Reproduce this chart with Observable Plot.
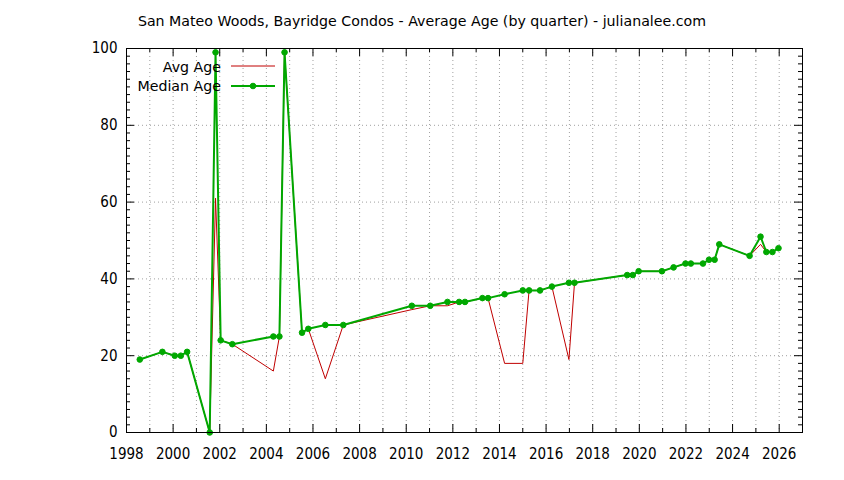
<!DOCTYPE html>
<html>
<head>
<meta charset="utf-8">
<script src="https://cdn.jsdelivr.net/npm/d3@7"></script>
<script src="https://cdn.jsdelivr.net/npm/@observablehq/plot@0.6"></script>
<style>
  body { margin: 0; background: #fff; }
  #wrap { position: relative; width: 844px; height: 480px; }
  #overlay { position: absolute; left: 0; top: 0; pointer-events: none; }
</style>
</head>
<body>
<div id="wrap">
  <div id="chart"></div>
  <svg id="overlay" width="844" height="480" font-family="DejaVu Sans, sans-serif" font-size="14.2">
    <text x="422" y="26" text-anchor="middle">San Mateo Woods, Bayridge Condos - Average Age (by quarter) - julianalee.com</text>
    <text x="221" y="71.5" text-anchor="end">Avg Age</text>
    <line x1="231" x2="275" y1="66" y2="66" stroke="#c00000" stroke-width="1"></line>
    <text x="221" y="90.7" text-anchor="end">Median Age</text>
    <line x1="231" x2="275" y1="86" y2="86" stroke="#00a800" stroke-width="2"></line>
    <circle cx="253" cy="86" r="2.8" fill="#00a800" stroke="#00a800" stroke-width="1"></circle>
  </svg>
</div>
<script>
const years = [1998.57, 1999.54, 2000.07, 2000.33, 2000.6, 2001.57, 2001.82, 2002.04, 2002.54, 2004.3, 2004.56, 2004.78, 2005.53, 2005.8, 2006.53, 2007.3, 2010.24, 2011.03, 2011.77, 2012.27, 2012.52, 2013.27, 2013.51, 2014.22, 2015.0, 2015.27, 2015.74, 2016.25, 2016.98, 2017.22, 2019.48, 2019.72, 2019.97, 2020.97, 2021.47, 2021.98, 2022.21, 2022.73, 2022.99, 2023.23, 2023.43, 2024.73, 2025.2, 2025.45, 2025.71, 2025.97];
const avgAge = [19, 21, 20, 20, 21, 0, 61, 24, 23, 16, 25, 99, 26, 27, 14, 28, 32, 33, 33, 34, 34, 35, 35, 18, 18, 37, 37, 38, 19, 39, 41, 41, 42, 42, 43, 44, 44, 44, 45, 45, 49, 46, 49, 47, 47, 48];
const medianAge = [19, 21, 20, 20, 21, 0, 99, 24, 23, 25, 25, 99, 26, 27, 28, 28, 33, 33, 34, 34, 34, 35, 35, 36, 37, 37, 37, 38, 39, 39, 41, 41, 42, 42, 43, 44, 44, 44, 45, 45, 49, 46, 51, 47, 47, 48];
const xTickLabels = [1998, 2000, 2002, 2004, 2006, 2008, 2010, 2012, 2014, 2016, 2018, 2020, 2022, 2024, 2026];
const xMinorTicks = [1999, 2001, 2003, 2005, 2007, 2009, 2011, 2013, 2015, 2017, 2019, 2021, 2023, 2025];
const yTickLabels = [0, 20, 40, 60, 80, 100];
const yMinorTicks = d3.range(2, 100, 2).filter(v => v % 20 !== 0);
const xGrid = d3.range(1999, 2027);
const yGrid = [20, 40, 60, 80];

const xDomain = [1998, 2027];
const yDomain = [0, 100];

const data = years.map((x, i) => ({x, avg: avgAge[i], med: medianAge[i]}));

// tick lengths converted into data units (plot area is ~676 x 384 px)
const xPerPx = (xDomain[1] - xDomain[0]) / 676;
const yPerPx = (yDomain[1] - yDomain[0]) / 384;
const majorLen = 8, minorLen = 4;

const chart = Plot.plot({
  width: 844,
  height: 480,
  marginLeft: 126,
  marginRight: 42,
  marginTop: 48,
  marginBottom: 48,
  style: {fontFamily: "DejaVu Sans Condensed, DejaVu Sans, sans-serif", fontStretch: "condensed", fontSize: "15px", color: "#000", background: "#fff"},
  x: {domain: xDomain},
  y: {domain: yDomain},
  marks: [
    Plot.ruleX(xGrid, {stroke: "#a0a0a0", strokeDasharray: "1,3", strokeWidth: 1}),
    Plot.ruleY(yGrid, {stroke: "#a0a0a0", strokeDasharray: "1,3", strokeWidth: 1}),
    Plot.ruleX(xTickLabels, {y1: 0, y2: majorLen * yPerPx, stroke: "#000"}),
    Plot.ruleX(xTickLabels, {y1: 100, y2: 100 - majorLen * yPerPx, stroke: "#000"}),
    Plot.ruleX(xMinorTicks, {y1: 0, y2: minorLen * yPerPx, stroke: "#000"}),
    Plot.ruleX(xMinorTicks, {y1: 100, y2: 100 - minorLen * yPerPx, stroke: "#000"}),
    Plot.ruleY(yTickLabels, {x1: xDomain[0], x2: xDomain[0] + majorLen * xPerPx, stroke: "#000"}),
    Plot.ruleY(yTickLabels, {x1: xDomain[1], x2: xDomain[1] - majorLen * xPerPx, stroke: "#000"}),
    Plot.ruleY(yMinorTicks, {x1: xDomain[0], x2: xDomain[0] + minorLen * xPerPx, stroke: "#000"}),
    Plot.ruleY(yMinorTicks, {x1: xDomain[1], x2: xDomain[1] - minorLen * xPerPx, stroke: "#000"}),
    Plot.axisX({ticks: xTickLabels, tickSize: 0, tickPadding: 16, tickFormat: d => String(d), label: null, fontSize: 15}),
    Plot.axisY({ticks: yTickLabels, tickSize: 0, tickPadding: 9, label: null, fontSize: 15}),
    Plot.line(data, {x: "x", y: "avg", stroke: "#c00000", strokeWidth: 1}),
    Plot.line(data, {x: "x", y: "med", stroke: "#00a800", strokeWidth: 2}),
    Plot.dot(data, {x: "x", y: "med", r: 2.8, fill: "#00a800", stroke: "#00a800", strokeWidth: 1}),
    Plot.frame({stroke: "#000", strokeWidth: 1})
  ]
});
document.getElementById("chart").appendChild(chart);
</script>
</body>
</html>
